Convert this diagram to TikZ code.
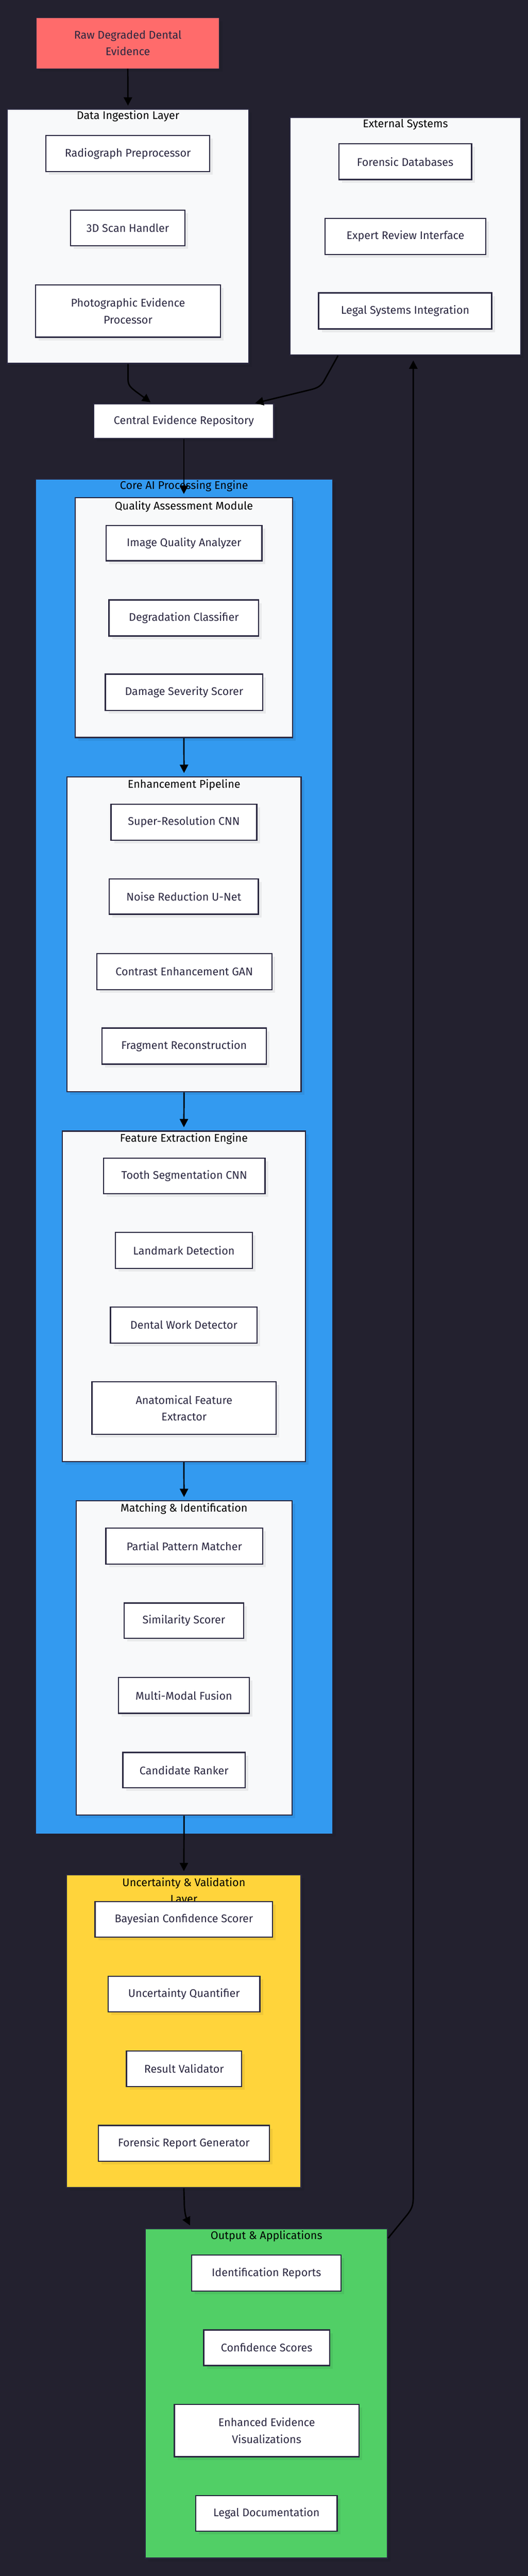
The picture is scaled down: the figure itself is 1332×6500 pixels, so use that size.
\documentclass[tikz,border=0pt]{standalone}
\usepackage{fontspec}
\setmainfont{Fira Sans}
\usetikzlibrary{arrows.meta,shadows}
\definecolor{bg}{HTML}{23212F}
\definecolor{nodestroke}{HTML}{2A2840}
\definecolor{nodetext}{HTML}{2A2740}
\definecolor{lightc}{HTML}{F8F9FA}
\definecolor{bluec}{HTML}{339AF0}
\definecolor{yellowc}{HTML}{FFD43B}
\definecolor{greenc}{HTML}{51CF66}
\definecolor{redc}{HTML}{FF6B6B}
\newcommand\mfont{\fontsize{28}{42}\selectfont}
\begin{document}
\begin{tikzpicture}[x=1pt,y=-1pt,
  box/.style={draw=nodestroke, line width=3pt, fill=white, text=nodetext, align=center,
    inner sep=0pt, font=\mfont,
    drop shadow={shadow xshift=8pt, shadow yshift=-8pt, fill=black, opacity=0.06}},
  cluster/.style={draw=nodestroke, line width=3pt, inner sep=0pt,
    drop shadow={shadow xshift=8pt, shadow yshift=-8pt, fill=black, opacity=0.06}},
  ctitle/.style={text=black, font=\mfont, inner sep=0pt, align=center},
  arr/.style={draw=black, line width=3.5pt, -{Triangle[length=21pt,width=21pt]}, shorten >=8pt}
]
\useasboundingbox (0,0) rectangle (1332,6500);
\fill[bg] (0,0) rectangle (1332,6500);

% clusters
\node[cluster, fill=lightc, minimum width=610pt, minimum height=641pt] (di) at (323,596.5) {};
\node[cluster, fill=lightc, minimum width=582pt, minimum height=600pt] (es) at (1023,596) {};
\node[cluster, fill=bluec, line width=1.5pt, minimum width=749pt, minimum height=3418pt] (core) at (464.5,2918) {};
\node[cluster, fill=lightc, minimum width=548pt, minimum height=605pt] (qam) at (464,1558.5) {};
\node[cluster, fill=lightc, minimum width=591pt, minimum height=795pt] (ep) at (464.5,2357.5) {};
\node[cluster, fill=lightc, minimum width=614pt, minimum height=834pt] (fee) at (464,3271) {};
\node[cluster, fill=lightc, minimum width=545pt, minimum height=793pt] (mi) at (464.5,4183.5) {};
\node[cluster, fill=yellowc, minimum width=592pt, minimum height=789pt] (uvl) at (464,5125.5) {};
\node[cluster, fill=greenc, minimum width=611pt, minimum height=831pt] (oa) at (672.5,6039.5) {};

% cluster titles
\node[ctitle] (dit) at (323,293) {Data Ingestion Layer};
\node[ctitle] (est) at (1023,314) {External Systems};
\node[ctitle] (coret) at (464.5,1227) {Core AI Processing Engine};
\node[ctitle] (qamt) at (464,1278) {Quality Assessment Module};
\node[ctitle] (ept) at (464.5,1981) {Enhancement Pipeline};
\node[ctitle] (feet) at (464,2873) {Feature Extraction Engine};
\node[ctitle] (mit) at (464.5,3807) {Matching \& Identification};
\node[ctitle] (uvlt) at (464,4773) {Uncertainty \& Validation\\Layer};
\node[ctitle] (oat) at (672.5,5642) {Output \& Applications};

% nodes
\node[box, fill=redc, line width=1pt, minimum width=461pt, minimum height=128pt] (raw) at (322.5,109) {Raw Degraded Dental\\Evidence};
\node[box, minimum width=413pt, minimum height=91pt] (rp) at (322.5,387.5) {Radiograph Preprocessor};
\node[box, minimum width=289pt, minimum height=90pt] (sh) at (322.5,575) {3D Scan Handler};
\node[box, minimum width=466pt, minimum height=132pt] (pe) at (323,785) {Photographic Evidence\\Processor};
\node[box, minimum width=335pt, minimum height=90pt] (fd) at (1022.5,408) {Forensic Databases};
\node[box, minimum width=406pt, minimum height=91pt] (er) at (1023,596.5) {Expert Review Interface};
\node[box, minimum width=437pt, minimum height=91pt] (ls) at (1022.5,784.5) {Legal Systems Integration};
\node[box, minimum width=454pt, minimum height=87pt] (cer) at (464,1063) {Central Evidence Repository};

\node[box, minimum width=393pt, minimum height=89pt] (iqa) at (464.5,1370.5) {Image Quality Analyzer};
\node[box, minimum width=378pt, minimum height=91pt] (dc) at (464,1559.5) {Degradation Classifier};
\node[box, minimum width=397pt, minimum height=92pt] (dss) at (464.5,1747) {Damage Severity Scorer};

\node[box, minimum width=368pt, minimum height=91pt] (sr) at (464,2074.5) {Super-Resolution CNN};
\node[box, minimum width=376pt, minimum height=89pt] (nr) at (464,2262.5) {Noise Reduction U-Net};
\node[box, minimum width=442pt, minimum height=91pt] (ce) at (465,2451.5) {Contrast Enhancement GAN};
\node[box, minimum width=415pt, minimum height=91pt] (fr) at (464.5,2639.5) {Fragment Reconstruction};

\node[box, minimum width=408pt, minimum height=90pt] (ts) at (465,2967) {Tooth Segmentation CNN};
\node[box, minimum width=346pt, minimum height=91pt] (ld) at (464,3155.5) {Landmark Detection};
\node[box, minimum width=370pt, minimum height=91pt] (dw) at (464,3343.5) {Dental Work Detector};
\node[box, minimum width=465pt, minimum height=132pt] (af) at (464.5,3553) {Anatomical Feature\\Extractor};

\node[box, minimum width=396pt, minimum height=91pt] (pp) at (465,3901.5) {Partial Pattern Matcher};
\node[box, minimum width=302pt, minimum height=89pt] (ss) at (464,4089.5) {Similarity Scorer};
\node[box, minimum width=330pt, minimum height=90pt] (mm) at (464,4278) {Multi-Modal Fusion};
\node[box, minimum width=309pt, minimum height=89pt] (cr) at (464.5,4466.5) {Candidate Ranker};

\node[box, minimum width=448pt, minimum height=90pt] (bc) at (464,4843) {Bayesian Confidence Scorer};
\node[box, minimum width=383pt, minimum height=89pt] (uq) at (464.5,5031.5) {Uncertainty Quantifier};
\node[box, minimum width=291pt, minimum height=90pt] (rv) at (464.5,5220) {Result Validator};
\node[box, minimum width=432pt, minimum height=90pt] (frg) at (464,5408) {Forensic Report Generator};

\node[box, minimum width=377pt, minimum height=91pt] (ir) at (672.5,5735.5) {Identification Reports};
\node[box, minimum width=318pt, minimum height=90pt] (cs) at (673,5924) {Confidence Scores};
\node[box, minimum width=466pt, minimum height=132pt] (eev) at (673,6133) {Enhanced Evidence\\Visualizations};
\node[box, minimum width=357pt, minimum height=90pt] (ldoc) at (672.5,6342) {Legal Documentation};

% edges
\draw[arr] (raw.south) -- (di.north);
\draw[arr, shorten >=5pt] (di.south) -- (323,955) .. controls (323,972) and (328,976) .. (343,988) -- ([xshift=-80pt]cer.north);
\draw[arr, shorten >=3pt] ([xshift=-170pt]es.south) -- (820,957) .. controls (811,975) and (800,979) .. (785,983) -- ([xshift=177pt]cer.north);
\draw[arr] (cer.south) -- (qam.north);
\draw[arr] (qam.south) -- (ep.north);
\draw[arr] (ep.south) -- (fee.north);
\draw[arr] (fee.south) -- (mi.north);
\draw[arr] (mi.south) -- (uvl.north);
\draw[arr] (uvl.south) -- (465,5555) .. controls (465,5580) and (469,5594) .. ([xshift=-189.5pt]oa.north);
\draw[arr, shorten >=12pt] ([yshift=-25pt]oa.north east) -- (1028,5588) .. controls (1040,5572) and (1043,5565) .. (1043,5540) -- ([xshift=20pt]es.south);
\end{tikzpicture}
\end{document}
